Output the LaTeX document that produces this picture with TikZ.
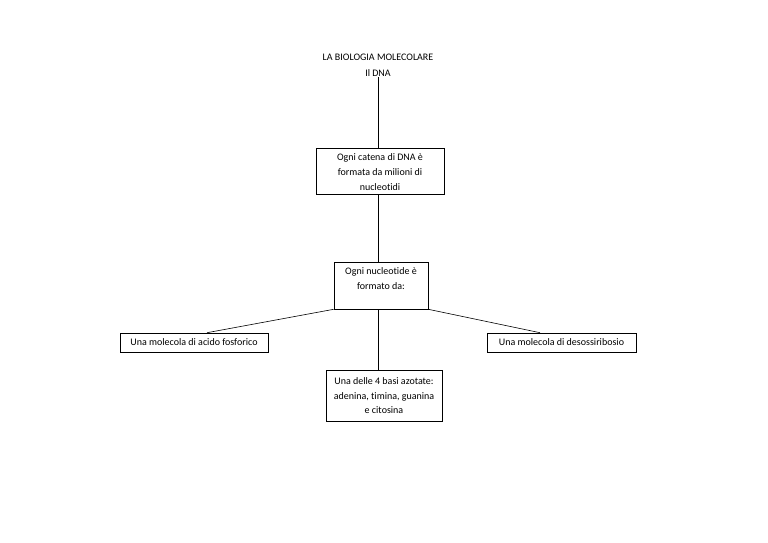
\documentclass[tikz,border=0pt]{standalone}
\usepackage{fontspec}
\setmainfont{Carlito}[Ligatures={NoCommon}]
\usetikzlibrary{shadows}
\begin{document}
\begin{tikzpicture}[x=1pt,y=-1pt,
  box/.style={draw, line width=0.6pt, fill=white, inner sep=0pt, align=center,
    font=\fontsize{10}{14.5}\selectfont,
    drop shadow={shadow xshift=0.8pt, shadow yshift=-0.8pt, opacity=0.45, fill=black}},
  plaintext/.style={align=center, inner sep=0pt, font=\fontsize{10}{15}\selectfont},
  link/.style={line width=0.6pt},
  titletext/.style={align=center, inner sep=0pt, font=\fontsize{10}{16}\selectfont}]
\useasboundingbox (0,0) rectangle (768,543);
\node[titletext] (title) at (378,65) {LA BIOLOGIA MOLECOLARE\\Il DNA};
\node[box, minimum width=128pt, minimum height=46pt] (b1) at (380,171) {};
\node[plaintext] (b1t) at (380,172.5) {Ogni catena di DNA è\\formata da milioni di\\nucleotidi};
\node[box, minimum width=94pt, minimum height=47pt] (b2) at (381,285.5) {};
\node[plaintext] (b2t) at (381,279) {Ogni nucleotide è\\formato da:};
\node[box, minimum width=148pt, minimum height=19pt] (bl) at (194,342.5)
  {Una molecola di acido fosforico};
\node[box, minimum width=149pt, minimum height=19pt] (br) at (561.5,342.5)
  {Una molecola di desossiribosio};
\node[box, minimum width=116pt, minimum height=51pt] (bb) at (384,396)
  {Una delle 4 basi azotate:\\adenina, timina, guanina\\e citosina};
\draw[link] ([yshift=-1pt]title.south) -- ([xshift=-2pt]b1.north);
\draw[link] ([xshift=-2pt]b1.south) -- ([xshift=-3pt]b2.north);
\draw[link] (b2.south west) -- ([xshift=13pt]bl.north);
\draw[link] (b2.south east) -- ([xshift=-21.5pt]br.north);
\draw[link] ([xshift=-3pt]b2.south) -- ([xshift=-6pt]bb.north);
\end{tikzpicture}
\end{document}
